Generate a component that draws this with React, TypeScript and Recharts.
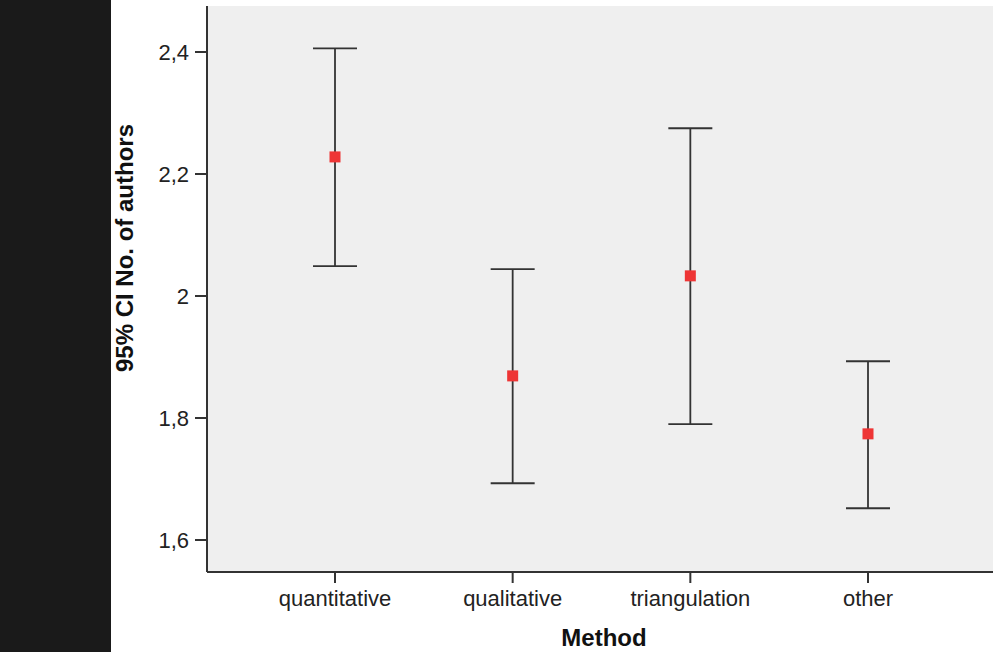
import React from 'react';
import {
  ComposedChart, Scatter, ErrorBar, XAxis, YAxis, CartesianGrid, Label
} from 'recharts';

const methods = ['quantitative', 'qualitative', 'triangulation', 'other'];
const means = [2.228, 1.869, 2.033, 1.774];
const lower = [2.049, 1.693, 1.790, 1.652];
const upper = [2.406, 2.044, 2.275, 1.893];
const yTicks = [1.6, 1.8, 2.0, 2.2, 2.4];

const data = methods.map((m, i) => ({
  method: m,
  mean: means[i],
  ci: [means[i] - lower[i], upper[i] - means[i]],
}));

const fmt = (v: number) => String(Math.round(v * 10) / 10).replace('.', ',');

// red square marker
const Square = (props: any) => {
  const { cx, cy } = props;
  return <rect x={cx - 5.5} y={cy - 5.5} width={11} height={11} fill="#ee3535" />;
};

const App: React.FC = () => {
  const font = 'Liberation Sans, Arial, Helvetica, sans-serif';
  return (
    <div style={{ position: 'absolute', left: 0, top: 0, width: 995, height: 652, background: '#fff', fontFamily: font }}>
      <div style={{ position: 'absolute', left: 0, top: 0, width: 111, height: 652, background: '#1a1a1a' }} />
      <ComposedChart
        width={995}
        height={652}
        data={data}
        margin={{ top: 6, right: 2, bottom: 50, left: 112 }}
      >
        <CartesianGrid horizontal={false} vertical={false} fill="#efefef" />
        <XAxis
          dataKey="method"
          type="category"
          height={30}
          padding={{ left: 128, right: 125 }}
          axisLine={{ stroke: '#333', strokeWidth: 2 }}
          tickLine={{ stroke: '#333', strokeWidth: 2 }}
          tickSize={11}
          tickMargin={7}
          fontSize={22}
          tick={{ fill: '#222', fontSize: 22, fontFamily: font }}
        >
          <Label
            value="Method"
            position="bottom"
            offset={27}
            dx={4}
            style={{ fill: '#111', fontSize: 24, fontWeight: 'bold', fontFamily: font }}
          />
        </XAxis>
        <YAxis
          type="number"
          domain={[1.5475, 2.4754]}
          allowDataOverflow
          ticks={yTicks}
          tickFormatter={fmt}
          width={95}
          axisLine={{ stroke: '#333', strokeWidth: 2 }}
          tickLine={{ stroke: '#333', strokeWidth: 2 }}
          tickSize={12}
          tickMargin={6}
          fontSize={22}
          tick={{ fill: '#222', fontSize: 22, fontFamily: font }}
        >
          <Label
            content={({ viewBox }: any) => {
              const x = viewBox.x + 12;
              const y = viewBox.y + viewBox.height / 2 - 41;
              return (
                <text
                  x={x}
                  y={y}
                  transform={`rotate(-90, ${x}, ${y})`}
                  textAnchor="middle"
                  dominantBaseline="central"
                  style={{ fill: '#111', fontSize: 24, fontWeight: 'bold', fontFamily: font }}
                >
                  95% CI No. of authors
                </text>
              );
            }}
          />
        </YAxis>
        <Scatter dataKey="mean" shape={<Square />} isAnimationActive={false}>
          <ErrorBar dataKey="ci" direction="y" width={22} stroke="#333" strokeWidth={1.8} />
        </Scatter>
      </ComposedChart>
    </div>
  );
};

export default App;
